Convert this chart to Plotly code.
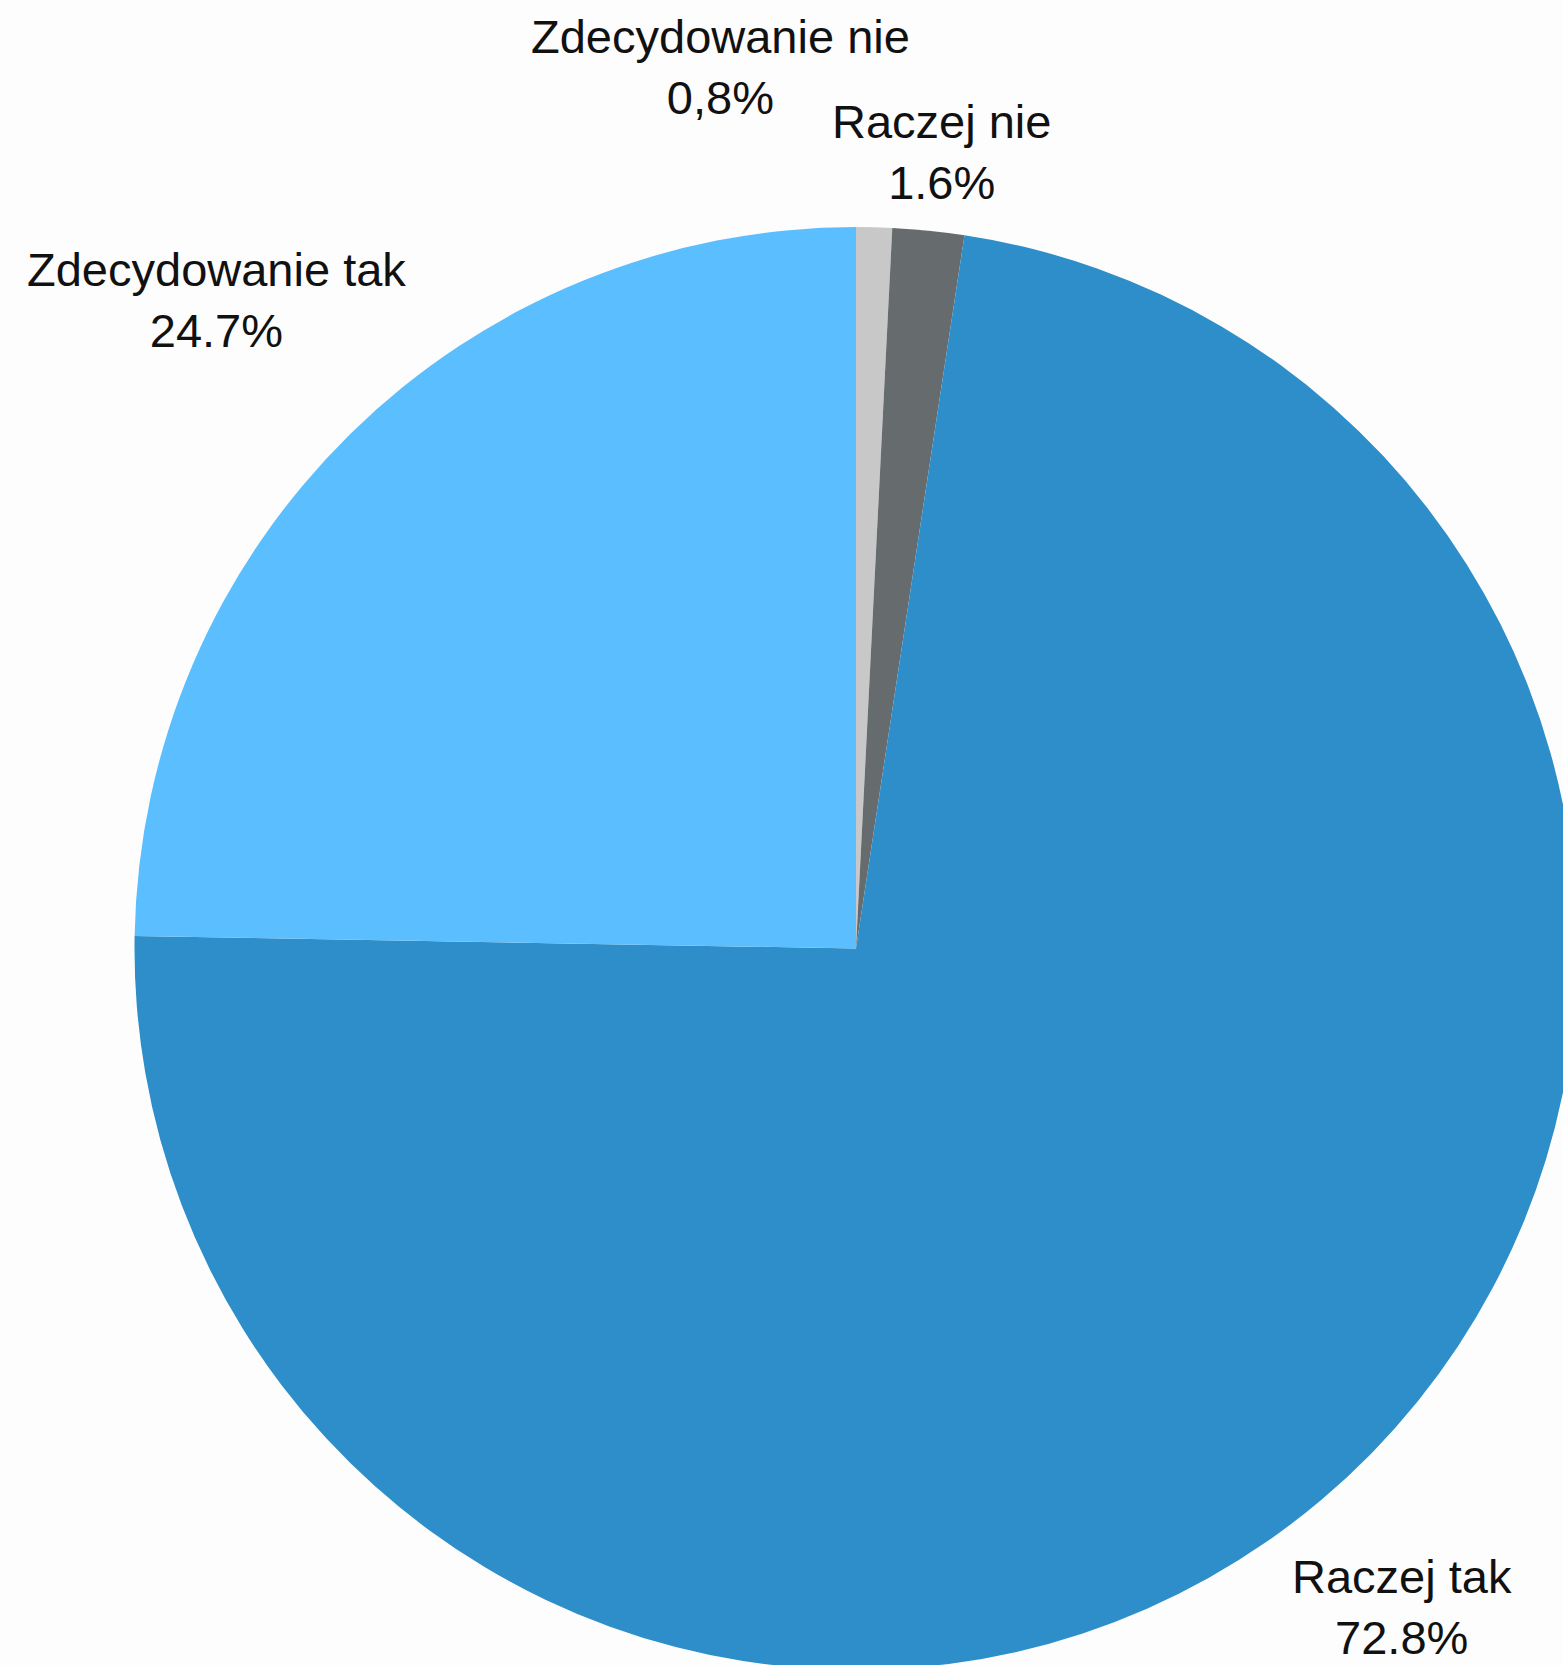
import plotly.graph_objects as go

labels = ["Zdecydowanie nie", "Raczej nie", "Raczej tak", "Zdecydowanie tak"]
values = [0.8, 1.6, 72.8, 24.7]
value_texts = ["0,8%", "1.6%", "72.8%", "24.7%"]
colors = ["#c8c8c8", "#666b6e", "#2d8ec9", "#5bbfff"]

# label block centres in page pixels (x, y from top)
label_pos = [(720, 67), (941, 152), (1402, 1607), (216, 300)]

W, H = 1578, 1670
cx_left, top = 134, 227

fig = go.Figure(go.Pie(
    labels=labels,
    values=values,
    marker=dict(colors=colors, line=dict(width=0)),
    sort=False,
    direction="clockwise",
    rotation=0,
    textinfo="none",
    hoverinfo="label+percent",
    domain=dict(x=[cx_left / W, 1], y=[0, (H - top) / H]),
    showlegend=False,
))

for lab, vt, (px, py) in zip(labels, value_texts, label_pos):
    fig.add_annotation(
        x=px / W, y=1 - py / H, xref="paper", yref="paper",
        xanchor="center", yanchor="middle",
        text=f"{lab}<br>{vt}", showarrow=False,
        font=dict(family="Liberation Sans, Arial, sans-serif", size=47, color="#111111"),
    )

fig.update_layout(
    width=W, height=H,
    margin=dict(l=0, r=0, t=0, b=0),
    paper_bgcolor="#fdfdfd",
    plot_bgcolor="#fdfdfd",
)

fig.write_html(
    "out.html",
    config={"displayModeBar": False},
    post_script="document.body.style.margin='0';document.body.style.overflow='hidden';document.documentElement.style.overflow='hidden';",
)
